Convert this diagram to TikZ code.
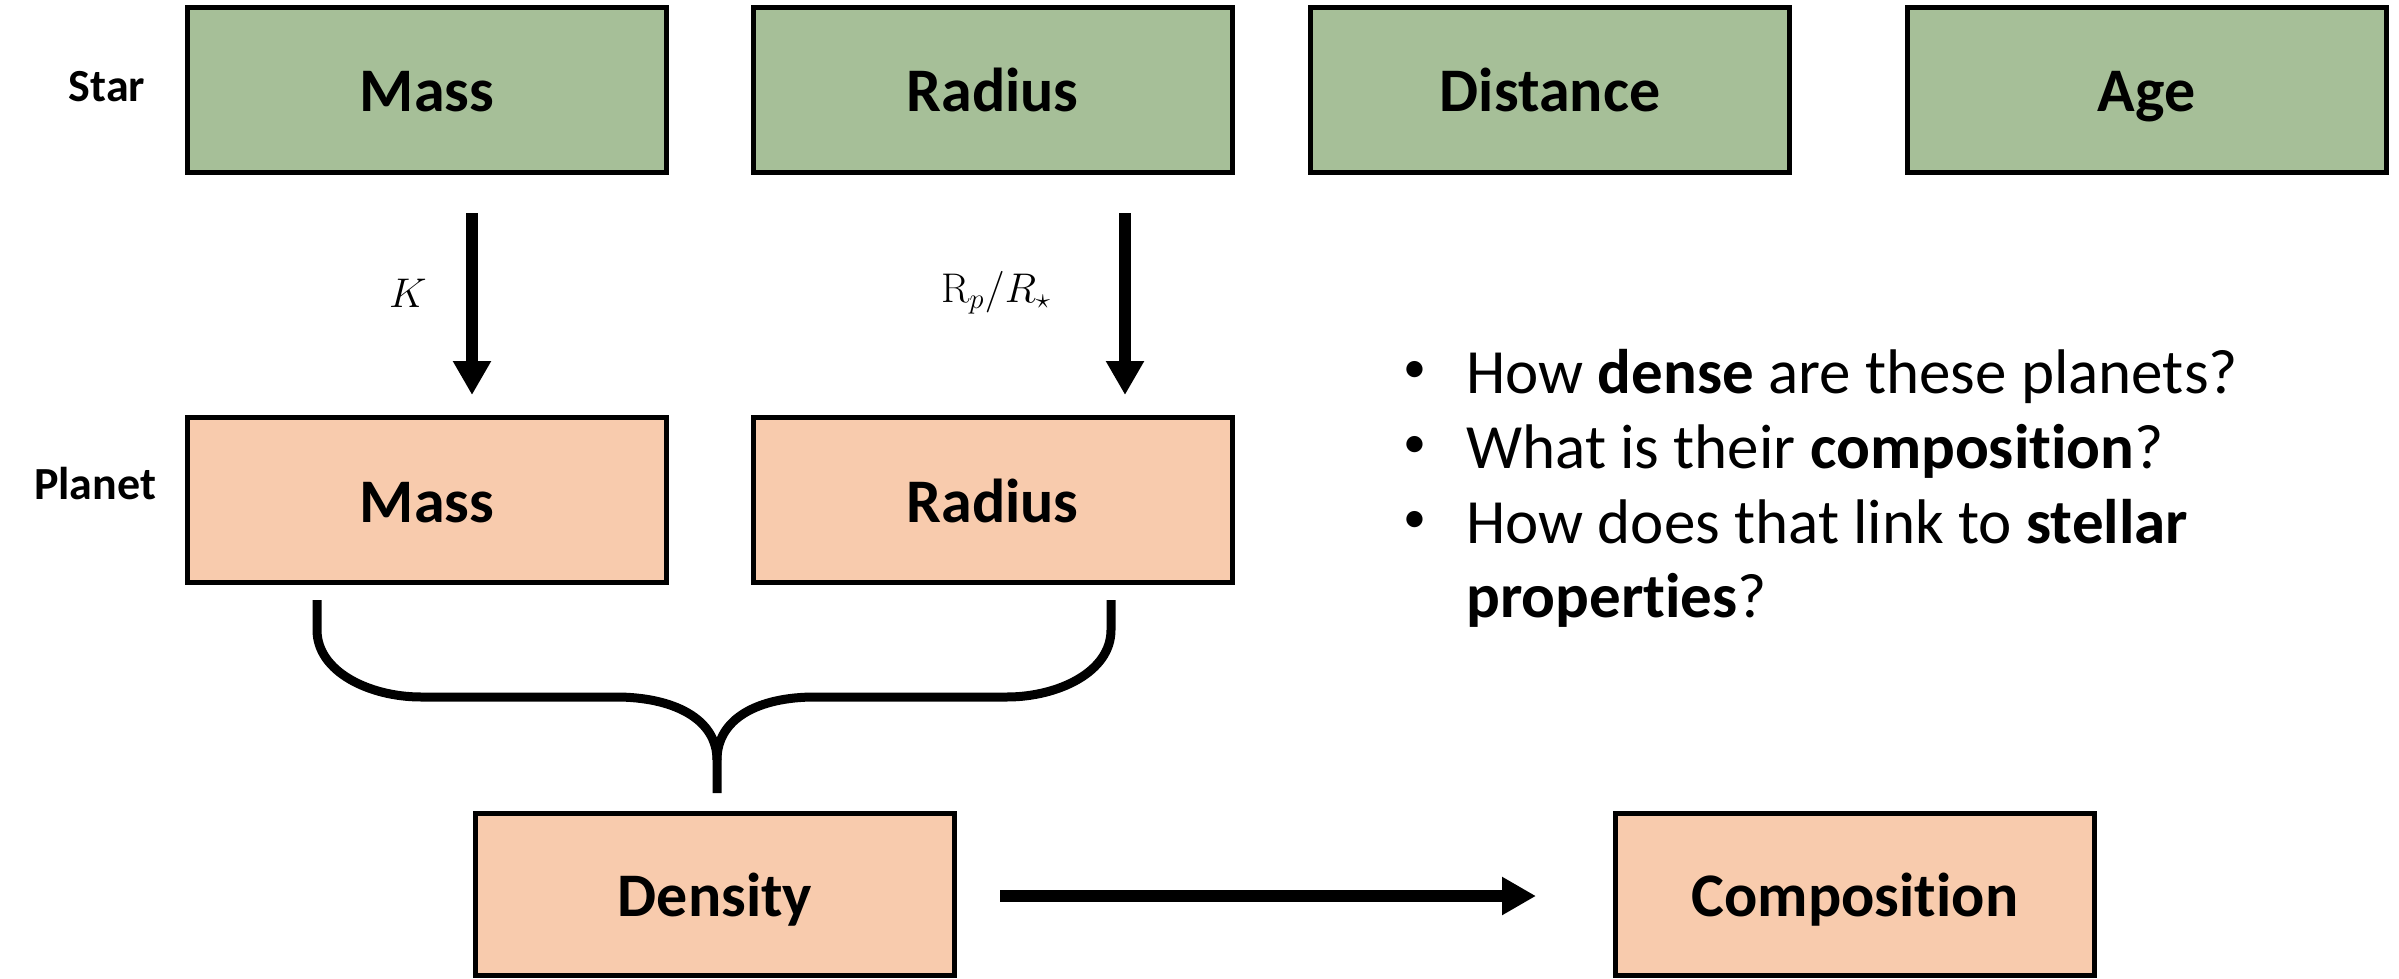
\documentclass[tikz,border=0pt]{standalone}
\usepackage[no-math]{fontspec}
\setmainfont{Carlito}[Ligatures=NoCommon]
\usetikzlibrary{arrows.meta}
\definecolor{stargreen}{HTML}{A6BF98}
\definecolor{planetpeach}{HTML}{F8CBAD}
\begin{document}
\begin{tikzpicture}[x=0.5pt,y=-0.5pt,
  box/.style={draw=black, line width=2.5pt, minimum width=239.5pt, minimum height=82.5pt, inner sep=0pt, text height=22pt, text depth=0pt, font=\fontsize{31}{37}\selectfont\bfseries},
  starbox/.style={box, fill=stargreen},
  planetbox/.style={box, fill=planetpeach},
  bigarrow/.style={line width=6pt, -{Triangle[width=18pt,length=17pt]}},
  rowlabel/.style={inner sep=0pt, font=\fontsize{23}{28}\selectfont\bfseries},
  mathlabel/.style={inner sep=0pt, font=\fontsize{22}{26}\selectfont},
  bullettext/.style={anchor=base west, inner sep=0pt, font=\fontsize{31.5}{37}\selectfont},
  bulletdot/.style={anchor=center, inner sep=0pt, font=\fontsize{23}{28}\selectfont},
  bracestroke/.style={line width=4.5pt, line cap=butt, line join=round}
]
\useasboundingbox (0,0) rectangle (2399,979);

% row labels
\node[rowlabel] (lstar) at (107,87) {Star};
\node[rowlabel] (lplanet) at (95,484) {Planet};

% star boxes
\node[starbox] (smass) at (427,90) {Mass};
\node[starbox] (srad) at (992.5,90) {Radius};
\node[starbox] (sdist) at (1550,90) {Distance};
\node[starbox] (sage) at (2146.5,90) {Age};

% planet boxes
\node[planetbox] (pmass) at (427,500) {Mass};
\node[planetbox] (prad) at (992.5,500) {Radius};

% density / composition
\node[planetbox, minimum height=81pt] (dens) at (715,894.5) {Density};
\node[planetbox, minimum height=81pt] (comp) at (1855,894.5) {Composition};

% arrows star -> planet
\coordinate (ka) at (472,213);
\coordinate (kb) at (472,395);
\coordinate (ra) at (1125,213);
\coordinate (rb) at (1125,395);
\draw[bigarrow] (ka) -- (kb);
\draw[bigarrow] (ra) -- (rb);
\node[mathlabel] (klab) at (408,293) {$K$};
\node[mathlabel] (rlab) at (996,293) {$\mathrm{R}_p/R_\star$};

% arrow density -> composition
\coordinate (da) at (1000,896);
\coordinate (db) at (1536,896);
\draw[bigarrow] (da) -- (db);

% brace
\draw[bracestroke] (317,600) -- (317,630) .. controls (317,672) and (370,697) .. (421,697)
  -- (616,697) .. controls (672,697) and (717,718) .. (717,760) -- (717,793);
\draw[bracestroke] (1111,600) -- (1111,630) .. controls (1111,672) and (1058,697) .. (1007,697)
  -- (815,697) .. controls (759,697) and (717,718) .. (717,760);

% bullet list
\node[bulletdot] (b1) at (1415,372) {•};
\node[bullettext] (t1) at (1466,393) {How \textbf{dense} are these planets?};
\node[bulletdot] (b2) at (1415,447) {•};
\node[bullettext] (t2) at (1466,468) {What is their \textbf{composition}?};
\node[bulletdot] (b3) at (1415,522) {•};
\node[bullettext] (t3) at (1466,543) {How does that link to \textbf{stellar}};
\node[bullettext] (t4) at (1466,617) {\textbf{properties}?};
\end{tikzpicture}
\end{document}
